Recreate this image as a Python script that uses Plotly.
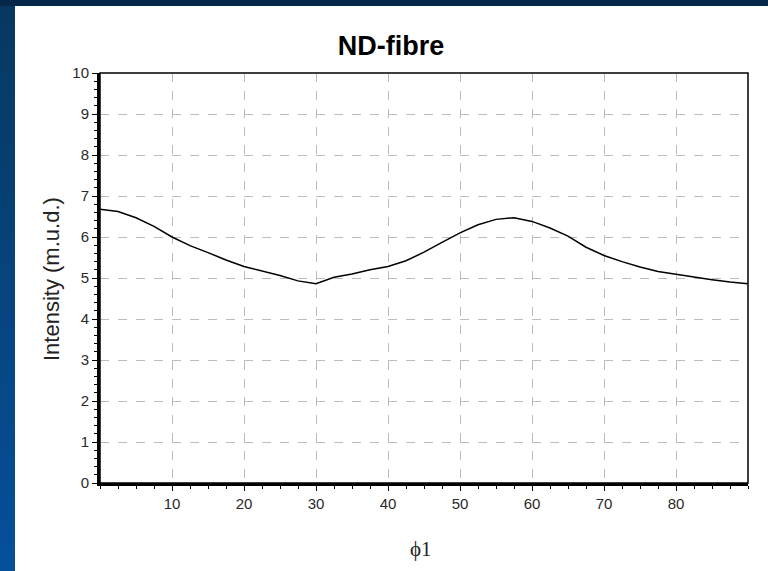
import plotly.graph_objects as go

# Orientation angle phi1 (degrees) and texture intensity (m.u.d.)
phi1 = [0, 2.5, 5, 7.5, 10, 12.5, 15, 17.5, 20, 22.5, 25, 27.5, 30, 32.5, 35,
        37.5, 40, 42.5, 45, 47.5, 50, 52.5, 55, 57.5, 60, 62.5, 65, 67.5, 70,
        72.5, 75, 77.5, 80, 82.5, 85, 87.5, 90]
intensity = [6.68, 6.62, 6.47, 6.26, 6.00, 5.79, 5.62, 5.44, 5.28, 5.17, 5.06,
             4.93, 4.86, 5.02, 5.10, 5.20, 5.28, 5.42, 5.63, 5.87, 6.10, 6.30,
             6.43, 6.47, 6.38, 6.22, 6.02, 5.75, 5.55, 5.40, 5.27, 5.16, 5.09,
             5.03, 4.96, 4.90, 4.86]

x_ticks = [10, 20, 30, 40, 50, 60, 70, 80]
y_ticks = [0, 1, 2, 3, 4, 5, 6, 7, 8, 9, 10]

W, H = 768, 571
L, R, T, B = 100, 20, 73, 88
pw, ph = W - L - R, H - T - B


def px(x):
    return (x - L) / pw


def py(y):
    return (H - B - y) / ph


fig = go.Figure()
fig.add_trace(go.Scatter(x=phi1, y=intensity, mode="lines",
                         line=dict(color="black", width=1.5),
                         showlegend=False, hoverinfo="x+y"))

shapes = []
# blue slide backdrop: vertical gradient built from bands
n = 24
c0 = (8, 56, 98)
c1 = (6, 80, 154)
for i in range(n):
    t = i / (n - 1)
    col = "rgb({},{},{})".format(*[int(a + (b - a) * t) for a, b in zip(c0, c1)])
    y0 = i * H / n
    y1 = (i + 1) * H / n + 1
    shapes.append(dict(type="rect", xref="paper", yref="paper",
                       x0=px(0), x1=px(W), y0=py(y1), y1=py(y0),
                       fillcolor=col, line=dict(width=0), layer="below"))
# dark top strip
shapes.append(dict(type="rect", xref="paper", yref="paper",
                   x0=px(0), x1=px(W), y0=py(6), y1=py(0),
                   fillcolor="rgb(6,40,72)", line=dict(width=0), layer="below"))
# white panel
shapes.append(dict(type="rect", xref="paper", yref="paper",
                   x0=px(15), x1=px(W + 2), y0=py(H + 2), y1=py(6),
                   fillcolor="white", line=dict(width=0), layer="below"))
# thin frame on top and right
shapes.append(dict(type="rect", xref="paper", yref="paper",
                   x0=0, x1=1, y0=0, y1=1,
                   line=dict(color="black", width=1.5), layer="above"))

annotations = [
    dict(text="Intensity (m.u.d.)", xref="paper", yref="paper",
         x=px(51), y=py(279), xanchor="center", yanchor="middle",
         textangle=-90, showarrow=False,
         font=dict(family="Arial, Liberation Sans", size=22, color="#222")),
    dict(text="\u03d51", xref="paper", yref="paper",
         x=px(421), y=py(549), xanchor="center", yanchor="middle",
         showarrow=False,
         font=dict(family="Liberation Serif, Times New Roman", size=21, color="#222")),
]

tick_font = dict(family="Arial, Liberation Sans", size=15, color="#2a2a2a")

fig.update_layout(
    width=W, height=H,
    margin=dict(l=L, r=R, t=T, b=B),
    paper_bgcolor="rgb(8,60,110)",
    plot_bgcolor="white",
    title=dict(text="<b>ND-fibre</b>", x=391 / W, xanchor="center",
               y=1 - 46 / H, yanchor="middle", xref="container", yref="container",
               font=dict(family="Arial, Liberation Sans", size=27, color="black")),
    shapes=shapes,
    annotations=annotations,
    xaxis=dict(range=[0, 90], tickvals=x_ticks, ticktext=[str(v) for v in x_ticks],
               showgrid=True, gridcolor="#bdbdbd", griddash="dash", gridwidth=1,
               showline=True, linecolor="black", linewidth=3,
               ticks="outside", ticklen=5, tickcolor="black", tickwidth=1,
               minor=dict(dtick=2.5, tick0=0, ticks="outside", ticklen=3,
                          tickcolor="black", showgrid=False),
               tickfont=tick_font, zeroline=False),
    yaxis=dict(range=[0, 10], tickvals=y_ticks,
               showgrid=True, gridcolor="#bdbdbd", griddash="dash", gridwidth=1,
               showline=True, linecolor="black", linewidth=3,
               ticks="outside", ticklen=5, tickcolor="black", tickwidth=1,
               minor=dict(dtick=0.2, tick0=0, ticks="outside", ticklen=3,
                          tickcolor="black", showgrid=False),
               tickfont=tick_font, zeroline=False),
)

fig.write_html("out.html")
